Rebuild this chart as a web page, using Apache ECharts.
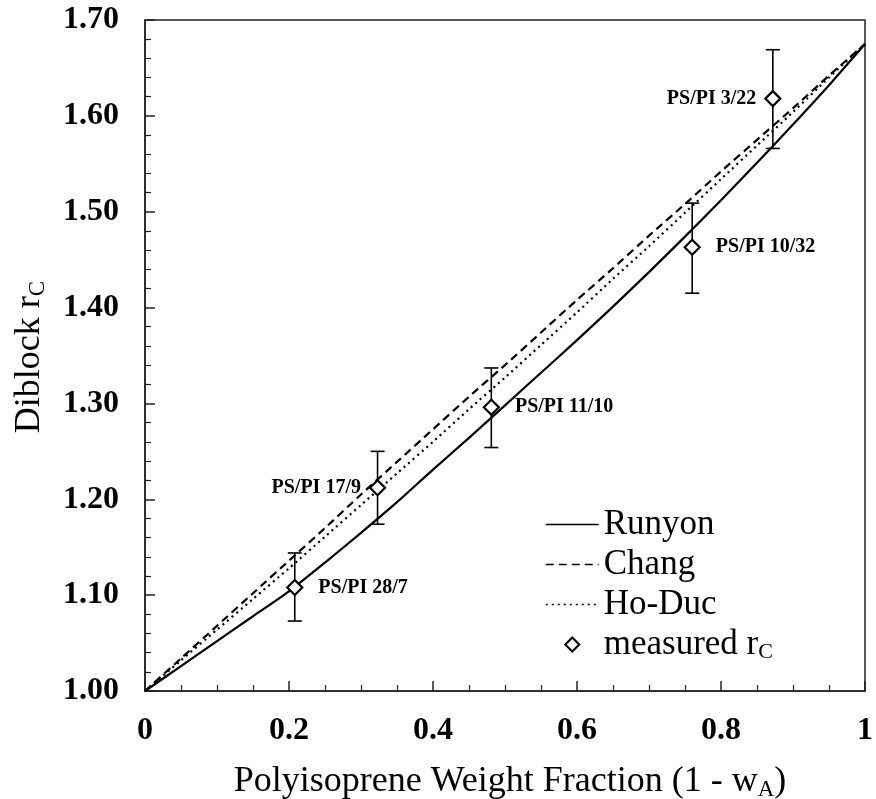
<!DOCTYPE html>
<html>
<head>
<meta charset="utf-8">
<script src="https://cdn.jsdelivr.net/npm/echarts@6/dist/echarts.min.js"></script>
<style>html,body{margin:0;padding:0;background:#fff}#c{width:876px;height:799px}</style>
</head>
<body>
<div id="c"></div>
<script>
// ---- data ----
const xGrid   = [0, 0.05, 0.1, 0.15, 0.2, 0.25, 0.3, 0.35, 0.4, 0.45, 0.5, 0.55, 0.6, 0.65, 0.7, 0.75, 0.8, 0.85, 0.9, 0.95, 1.0];
const runyon  = [1.000, 1.026, 1.052, 1.078, 1.104, 1.134, 1.165, 1.197, 1.231, 1.264, 1.298, 1.332, 1.366, 1.401, 1.437, 1.474, 1.512, 1.551, 1.591, 1.632, 1.675];
const chang   = [1.000, 1.034, 1.068, 1.102, 1.136, 1.170, 1.205, 1.239, 1.273, 1.307, 1.340, 1.374, 1.408, 1.441, 1.475, 1.508, 1.542, 1.575, 1.608, 1.642, 1.675];
const hoDuc   = [1.000, 1.032, 1.064, 1.096, 1.128, 1.161, 1.194, 1.227, 1.260, 1.294, 1.327, 1.361, 1.395, 1.430, 1.464, 1.499, 1.534, 1.569, 1.604, 1.640, 1.675];

const sampleNames = ['PS/PI 28/7', 'PS/PI 17/9', 'PS/PI 11/10', 'PS/PI 10/32', 'PS/PI 3/22'];
const sampleX     = [0.208, 0.323, 0.481, 0.760, 0.872];
const sampleY     = [1.108, 1.212, 1.296, 1.463, 1.618];
const errLow      = [1.073, 1.174, 1.254, 1.415, 1.566];
const errHigh     = [1.144, 1.250, 1.337, 1.509, 1.669];

const xTicks = [0, 0.2, 0.4, 0.6, 0.8, 1];
const yTicks = [1.0, 1.1, 1.2, 1.3, 1.4, 1.5, 1.6, 1.7];

const xTitle = 'Polyisoprene Weight Fraction (1 - w{sub|A})';
const yTitle = 'Diblock r{sub|C}';

// ---- build ----
const FONT = 'Liberation Serif';
const leftLabeled = new Set(['PS/PI 17/9', 'PS/PI 3/22']);
const pair = (xs, ys) => xs.map((x, i) => [x, ys[i]]);

const scatterData = sampleNames.map((n, i) => {
  const left = leftLabeled.has(n);
  return {
    name: n,
    value: [sampleX[i], sampleY[i]],
    label: { position: left ? 'left' : 'right', distance: left ? 8 : 15 }
  };
});
const errData = sampleX.map((x, i) => [x, errLow[i], errHigh[i]]);

const subRich = (size) => ({ sub: { fontFamily: FONT, fontSize: size, color: '#000', verticalAlign: 'bottom', padding: [16, 0, 0, 0] } });
const hiddenSym = { color: 'rgba(0,0,0,0)', borderColor: 'rgba(0,0,0,0)', borderWidth: 0, opacity: 0 };

const chart = echarts.init(document.getElementById('c'), null, { renderer: 'canvas' });
const option = {
  backgroundColor: '#fff',
  animation: false,
  grid: { left: 145, right: 4, top: 20, bottom: 108, show: true, borderColor: '#222', borderWidth: 1.5 },
  graphic: [
    { type: 'text', x: 510, y: 782, silent: true,
      style: { text: xTitle, fontFamily: FONT, fontSize: 36, fill: '#000', align: 'center', verticalAlign: 'middle', rich: subRich(23) } },
    { type: 'text', x: 30, y: 357, rotation: Math.PI / 2, silent: true,
      style: { text: yTitle, fontFamily: FONT, fontSize: 36, fill: '#000', align: 'center', verticalAlign: 'middle', rich: subRich(23) } }
  ],
  xAxis: {
    type: 'value', min: 0, max: 1, interval: 0.2,
    axisLine: { lineStyle: { color: '#222', width: 1.5 } },
    axisTick: { inside: true, length: 10, lineStyle: { color: '#222', width: 1.5 } },
    minorTick: { show: true, splitNumber: 4, length: 6, lineStyle: { color: '#222', width: 1.2 } },
    splitLine: { show: false },
    axisLabel: {
      margin: 24, fontFamily: FONT, fontWeight: 'bold', fontSize: 32, color: '#000',
      formatter: v => { const t = xTicks.find(k => Math.abs(k - v) < 1e-9); return (t === 0 || t === 1) ? String(t) : t.toFixed(1); }
    }
  },
  yAxis: {
    type: 'value', min: 1.0, max: 1.7, interval: 0.1,
    axisLine: { lineStyle: { color: '#222', width: 1.5 } },
    axisTick: { inside: true, length: 10, lineStyle: { color: '#222', width: 1.5 } },
    minorTick: { show: true, splitNumber: 5, length: 6, lineStyle: { color: '#222', width: 1.2 } },
    splitLine: { show: false },
    axisLabel: {
      margin: 26, fontFamily: FONT, fontWeight: 'bold', fontSize: 32, color: '#000',
      formatter: v => { const t = yTicks.find(k => Math.abs(k - v) < 1e-9); return t.toFixed(2); }
    }
  },
  legend: {
    orient: 'vertical', left: 540, top: 502,
    itemWidth: 53, itemHeight: 14, itemGap: 5,
    data: [
      { name: 'Runyon', itemStyle: hiddenSym },
      { name: 'Chang', itemStyle: hiddenSym },
      { name: 'Ho-Duc', itemStyle: hiddenSym },
      { name: 'measured rC', icon: 'path://M0,-1L1,0L0,1L-1,0Z' }
    ],
    lineStyle: { width: 1.5 },
    textStyle: { fontFamily: FONT, fontSize: 35, color: '#000', rich: subRich(22) },
    formatter: n => n === 'measured rC' ? 'measured r{sub|C}' : n
  },
  series: [
    { name: 'Runyon', type: 'line', data: pair(xGrid, runyon), symbol: 'none', smooth: 0.2,
      lineStyle: { color: '#000', width: 2.2, type: 'solid' }, itemStyle: { color: '#000' } },
    { name: 'Chang', type: 'line', data: pair(xGrid, chang), symbol: 'none', smooth: 0.2,
      lineStyle: { color: '#000', width: 2.2, type: [8, 5] }, itemStyle: { color: '#000' } },
    { name: 'Ho-Duc', type: 'line', data: pair(xGrid, hoDuc), symbol: 'none', smooth: 0.2,
      lineStyle: { color: '#000', width: 2.2, type: [2, 4] }, itemStyle: { color: '#000' } },
    { name: 'errorbars', type: 'custom', data: errData, encode: { x: 0, y: [1, 2] }, z: 3,
      renderItem: (params, api) => {
        const x = api.value(0);
        const top = api.coord([x, api.value(2)]);
        const bot = api.coord([x, api.value(1)]);
        const w = 7;
        const st = { stroke: '#000', lineWidth: 1.6 };
        return { type: 'group', children: [
          { type: 'line', shape: { x1: top[0], y1: top[1], x2: bot[0], y2: bot[1] }, style: st },
          { type: 'line', shape: { x1: top[0] - w, y1: top[1], x2: top[0] + w, y2: top[1] }, style: st },
          { type: 'line', shape: { x1: bot[0] - w, y1: bot[1], x2: bot[0] + w, y2: bot[1] }, style: st }
        ]};
      }
    },
    { name: 'measured rC', type: 'scatter', data: scatterData, symbol: 'diamond', symbolSize: 15, z: 5,
      itemStyle: { color: '#fff', borderColor: '#000', borderWidth: 2.2, opacity: 1 },
      label: { show: true, formatter: p => p.name, fontFamily: FONT, fontWeight: 'bold', fontSize: 20, color: '#000' } }
  ]
};
chart.setOption(option);
</script>
</body>
</html>
